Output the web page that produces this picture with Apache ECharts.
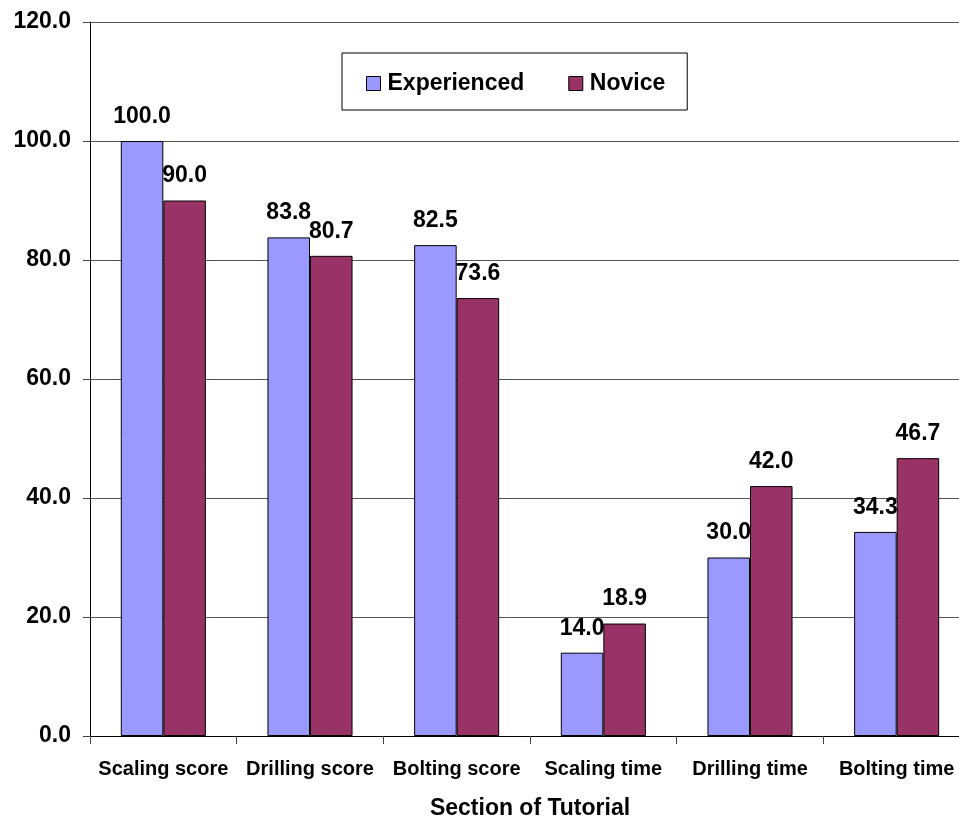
<!DOCTYPE html>
<html>
<head>
<meta charset="utf-8">
<script src="https://cdn.jsdelivr.net/npm/echarts@6/dist/echarts.min.js"></script>
<style>
html,body{margin:0;padding:0;background:#fff;}
#chart{width:959px;height:819px;}
</style>
</head>
<body>
<div id="chart"></div>
<script>
const categories = ['Scaling score', 'Drilling score', 'Bolting score', 'Scaling time', 'Drilling time', 'Bolting time'];
const experienced = [100.0, 83.8, 82.5, 14.0, 30.0, 34.3];
const novice = [90.0, 80.7, 73.6, 18.9, 42.0, 46.7];
const seriesNames = ['Experienced', 'Novice'];
const xAxisTitle = 'Section of Tutorial';

const FONT = '"Liberation Sans", Arial, sans-serif';
const chart = echarts.init(document.getElementById('chart'));
const labelCfg = {
  show: true, position: 'top', distance: 13,
  color: '#000', fontFamily: FONT, fontWeight: 'bold', fontSize: 23,
  formatter: p => p.value.toFixed(1)
};
chart.setOption({
  animation: false,
  backgroundColor: '#fff',
  legend: {
    left: 342, top: 53,
    padding: [19, 22, 15, 24],
    borderColor: '#000', borderWidth: 1,
    backgroundColor: '#fff',
    itemWidth: 14, itemHeight: 14, itemGap: 44,
    icon: 'rect',
    itemStyle: { borderColor: '#000', borderWidth: 1 },
    textStyle: { fontFamily: FONT, fontWeight: 'bold', fontSize: 23, color: '#000', padding: [0, 0, 0, 2] },
    data: seriesNames
  },
  grid: { left: 90, top: 22, bottom: 83, right: -11, containLabel: false, outerBoundsMode: 'none' },
  xAxis: {
    type: 'category', data: categories,
    name: xAxisTitle, nameLocation: 'middle', nameGap: 61,
    nameTextStyle: { fontFamily: FONT, fontWeight: 'bold', fontSize: 23, color: '#000' },
    axisLine: { lineStyle: { color: '#000', width: 1 } },
    axisTick: { show: true, length: 8, lineStyle: { color: '#444' } },
    axisLabel: { interval: 0, margin: 23, fontFamily: FONT, fontWeight: 'bold', fontSize: 20, color: '#000' }
  },
  yAxis: {
    type: 'value', min: 0, max: 120, interval: 20,
    axisLine: { show: true, lineStyle: { color: '#000', width: 1 } },
    axisTick: { show: true, length: 7, lineStyle: { color: '#444' } },
    axisLabel: { margin: 19, fontFamily: FONT, fontWeight: 'bold', fontSize: 23, color: '#000', formatter: v => v.toFixed(1) },
    splitLine: { show: true, lineStyle: { color: '#555', width: 1 } }
  },
  series: [
    {
      name: seriesNames[0], type: 'bar', data: experienced,
      barGap: '0%', barCategoryGap: '42%',
      itemStyle: { color: '#9999FF', borderColor: '#000', borderWidth: 1 },
      label: labelCfg
    },
    {
      name: seriesNames[1], type: 'bar', data: novice,
      barGap: '0%', barCategoryGap: '42%',
      itemStyle: { color: '#993366', borderColor: '#000', borderWidth: 1 },
      label: labelCfg
    }
  ]
});
</script>
</body>
</html>
